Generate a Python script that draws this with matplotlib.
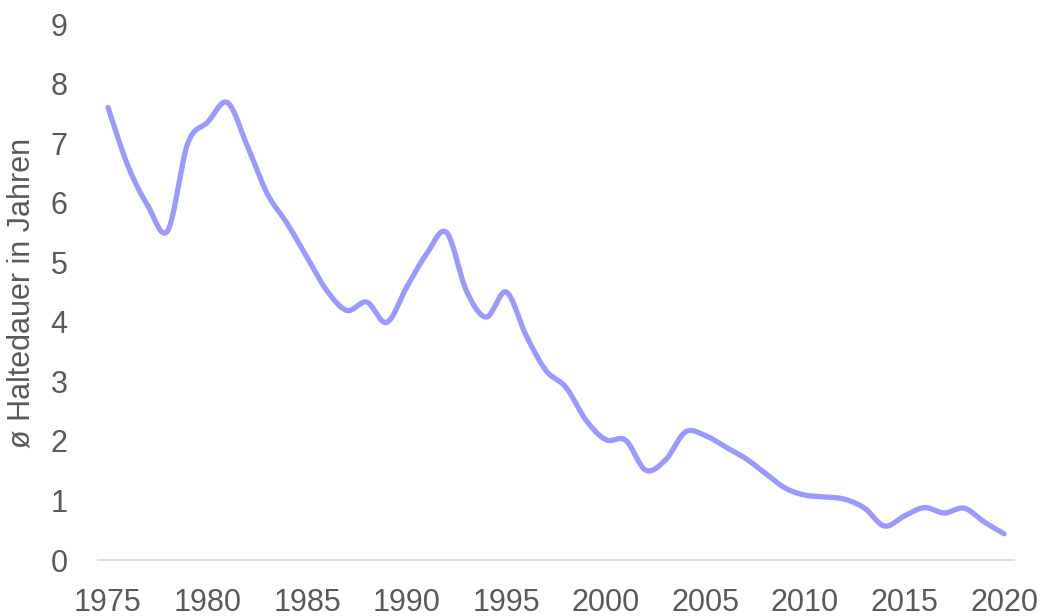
import numpy as np
import matplotlib
matplotlib.use("Agg")
import matplotlib.pyplot as plt

years = list(range(1975, 2021))
haltedauer = [7.60, 6.62, 5.95, 5.53, 6.99, 7.35, 7.68, 6.95, 6.15, 5.65,
              5.08, 4.52, 4.19, 4.33, 3.99, 4.58, 5.14, 5.50, 4.52, 4.08,
              4.50, 3.77, 3.18, 2.90, 2.35, 2.02, 2.01, 1.51, 1.68, 2.15,
              2.09, 1.90, 1.71, 1.46, 1.21, 1.09, 1.06, 1.02, 0.87, 0.57,
              0.74, 0.88, 0.79, 0.87, 0.64, 0.44]
xticks = list(range(1975, 2021, 5))
yticks = list(range(0, 10))


def smooth(x, y, n=20):
    # Excel-like smoothed line (Catmull-Rom / Bezier through every point)
    x = np.asarray(x, float)
    y = np.asarray(y, float)
    px = np.concatenate([[x[0]], x, [x[-1]]])
    py = np.concatenate([[y[0]], y, [y[-1]]])
    xs, ys = [], []
    t = np.linspace(0, 1, n, endpoint=False)
    for i in range(1, len(px) - 2):
        p0x, p1x, p2x, p3x = px[i - 1], px[i], px[i + 1], px[i + 2]
        p0y, p1y, p2y, p3y = py[i - 1], py[i], py[i + 1], py[i + 2]
        c1x, c1y = p1x + (p2x - p0x) / 6, p1y + (p2y - p0y) / 6
        c2x, c2y = p2x - (p3x - p1x) / 6, p2y - (p3y - p1y) / 6
        b0 = (1 - t) ** 3
        b1 = 3 * (1 - t) ** 2 * t
        b2 = 3 * (1 - t) * t ** 2
        b3 = t ** 3
        xs.append(b0 * p1x + b1 * c1x + b2 * c2x + b3 * p2x)
        ys.append(b0 * p1y + b1 * c1y + b2 * c2y + b3 * p2y)
    xs.append([x[-1]])
    ys.append([y[-1]])
    return np.concatenate(xs), np.concatenate(ys)


plt.rcParams['font.family'] = ['Liberation Sans', 'DejaVu Sans']
grey = '#595959'

fig = plt.figure(figsize=(10.45, 6.16), dpi=100)
ax = fig.add_axes([0.0938, 0.0909, 0.8765, 0.8701])

sx, sy = smooth(years, haltedauer)
ax.plot(sx, sy, color='#9999FF', linewidth=3.8, solid_capstyle='round',
        solid_joinstyle='round')

ax.set_xlim(1974.5, 2020.5)
ax.set_ylim(0, 9)
ax.set_xticks(xticks)
ax.set_yticks(yticks)
ax.tick_params(axis='both', length=0, labelsize=22, labelcolor=grey)
ax.tick_params(axis='x', pad=20)
ax.tick_params(axis='y', pad=22)

for s in ['top', 'right', 'left']:
    ax.spines[s].set_visible(False)
ax.spines['bottom'].set_color('#D9D9D9')
ax.spines['bottom'].set_linewidth(1.2)

fig.text(22 / 1045, 1 - 293 / 616, 'ø Haltedauer in Jahren', fontsize=22,
         color=grey, rotation=90, ha='center', va='center')

fig.savefig('out.png', dpi=100)
